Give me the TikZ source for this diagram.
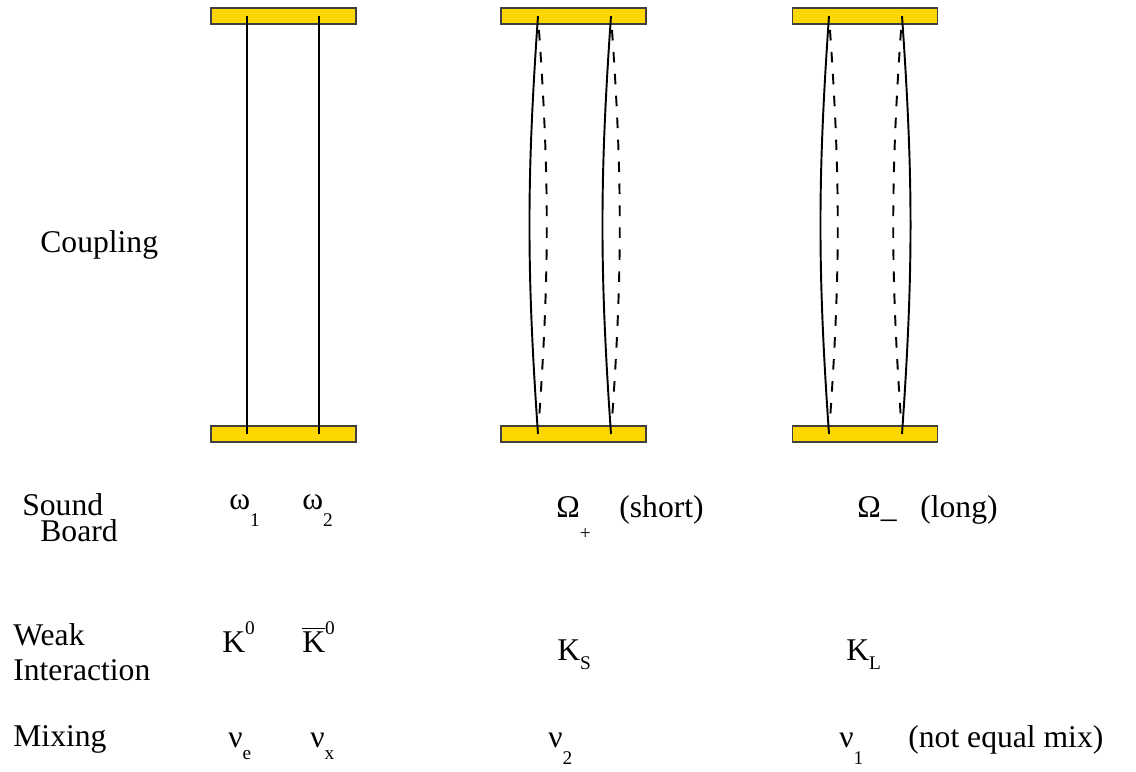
\documentclass[tikz,border=0pt]{standalone}
\usepackage{fontspec}
\setmainfont{Liberation Serif}
\definecolor{boardgold}{RGB}{255,215,0}
\usetikzlibrary{positioning}
\newcommand\lowsub[2][0.55em]{\raisebox{-#1}{\fontsize{11}{13}\selectfont #2}}
\newcommand\highsup[1]{\raisebox{0.55em}{\fontsize{11}{13}\selectfont #1}}

\begin{document}
\begin{tikzpicture}[x=0.02cm, y=-0.02cm,
  board/.style={rectangle, draw=black!75, fill=boardgold, line width=0.6pt,
                minimum width=2.9cm, minimum height=0.32cm, inner sep=0pt},
  txt/.style={anchor=base west, inner sep=0pt, font=\fontsize{18}{21}\selectfont},
  string/.style={line width=1.1pt},
  dstring/.style={line width=1.1pt, dash pattern=on 6pt off 6.5pt,
                  shorten <=0.28cm, shorten >=0.28cm}
]
\useasboundingbox (0,0) rectangle (1136,771);

% Boards
\node[board] (topA) at (283.5,16)  {};
\node[board] (botA) at (283.5,434) {};
\node[board] (topB) at (573.5,16)  {};
\node[board] (botB) at (573.5,434) {};
\node[board] (topC) at (865,16)    {};
\node[board] (botC) at (865,434)   {};

% String ends
\coordinate (a1t) at (247,16); \coordinate (a1b) at (247,434);
\coordinate (a2t) at (319,16); \coordinate (a2b) at (319,434);
\coordinate (b1t) at (538,16); \coordinate (b1b) at (538,434);
\coordinate (b2t) at (611,16); \coordinate (b2b) at (611,434);
\coordinate (c1t) at (829,16); \coordinate (c1b) at (829,434);
\coordinate (c2t) at (902,16); \coordinate (c2b) at (902,434);

% Strings
\draw[string] (a1t) -- (a1b);
\draw[string] (a2t) -- (a2b);

\draw[string]  (b1t) to[bend right=4] (b1b);
\draw[dstring] (b1t) to[bend left=4]  (b1b);
\draw[string]  (b2t) to[bend right=4] (b2b);
\draw[dstring] (b2t) to[bend left=4]  (b2b);

\draw[string]  (c1t) to[bend right=4] (c1b);
\draw[dstring] (c1t) to[bend left=4]  (c1b);
\draw[string]  (c2t) to[bend left=4]  (c2b);
\draw[dstring] (c2t) to[bend right=4] (c2b);

% Row labels
\node[txt] (coupling) at (40,252)  {Coupling};
\node[txt, anchor=north west, align=left, font=\fontsize{18}{14.8}\selectfont]
     (sound) at (22,493) {Sound\\\hspace*{0.36cm}Board};
\node[txt] (weak)     at (13,645)  {Weak};
\node[txt] (inter)    at (13,680)  {Interaction};
\node[txt] (mixing)   at (13,746)  {Mixing};

% Sound board
\node[txt] (om1)   at (229,509) {ω\lowsub{1}};
\node[txt] (om2)   at (302,509) {ω\lowsub{2}};
\node[txt] (omp)   at (556,517) {Ω\lowsub[0.7em]{+}};
\node[txt] (short) at (619,517) {(short)};
\node[txt] (omm)   at (857,517) {Ω\_};
\node[txt] (long)  at (920,517) {(long)};

% Weak interaction
\node[txt] (k0)    at (222,652) {K\highsup{0}};
\node[txt] (kb0)   at (302,652) {$\overline{\mbox{K}}$\highsup{0}};
\node[txt] (ks)    at (557,660) {K\lowsub[0.3em]{S}};
\node[txt] (kl)    at (846,660) {K\lowsub[0.3em]{L}};

% Mixing
\node[txt] (nue)   at (228,747) {ν\lowsub[0.4em]{e}};
\node[txt] (nux)   at (310,747) {ν\lowsub[0.4em]{x}};
\node[txt] (nu2)   at (548,747) {ν\lowsub{2}};
\node[txt] (nu1)   at (839,747) {ν\lowsub{1}};
\node[txt] (neq)   at (908,747) {(not equal mix)};
\end{tikzpicture}
\end{document}
